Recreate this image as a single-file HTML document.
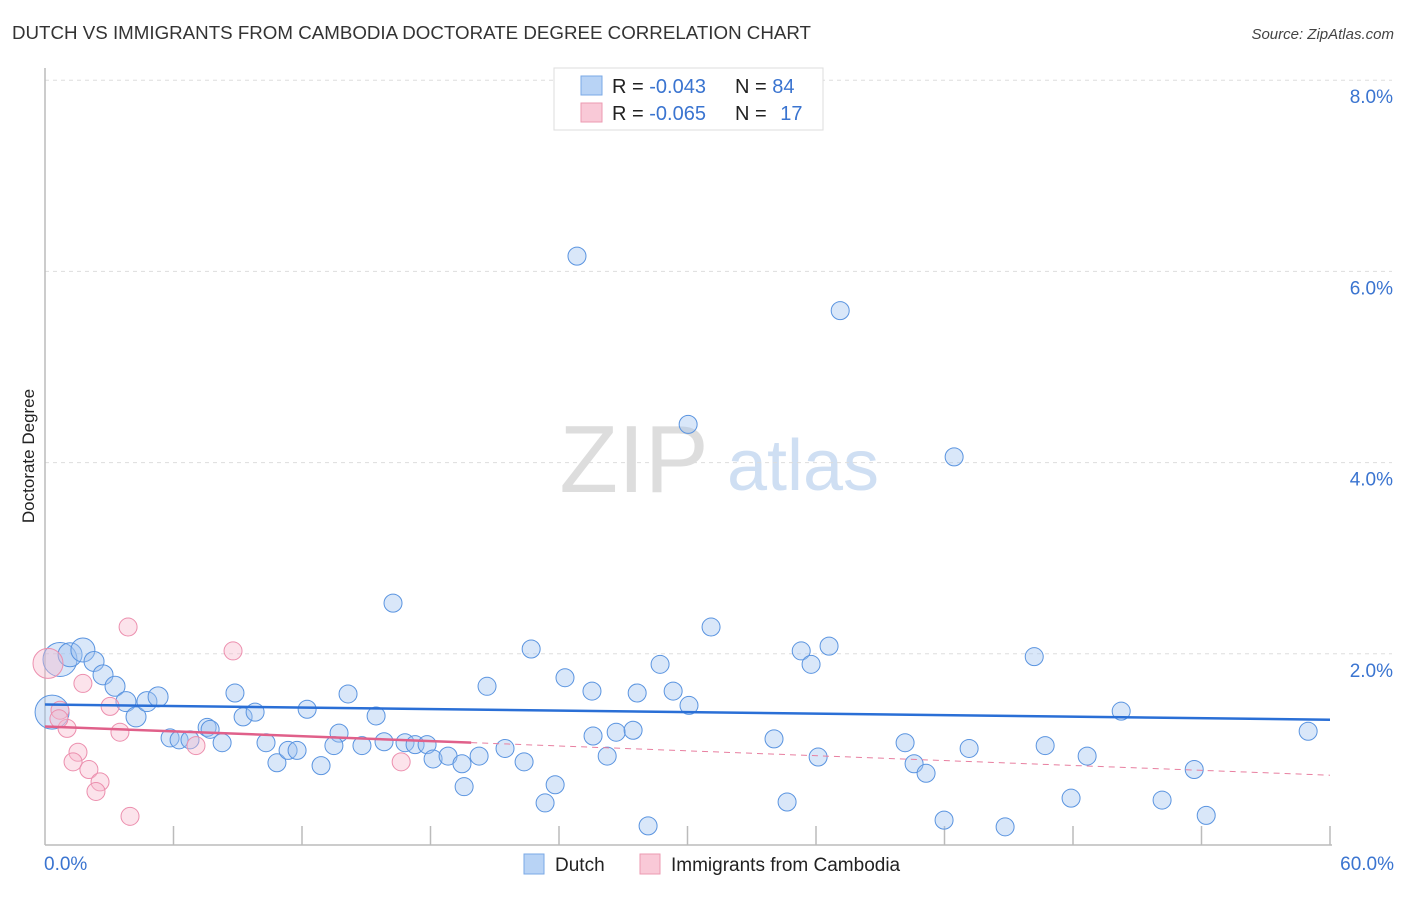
<!DOCTYPE html>
<html><head><meta charset="utf-8">
<style>
body{margin:0;background:#fff;font-family:"Liberation Sans",sans-serif;}
svg text{font-family:"Liberation Sans",sans-serif;}
</style></head>
<body>
<svg id="chart" width="1406" height="892">
  <text x="12" y="39" font-size="18" fill="#333" textLength="799" lengthAdjust="spacingAndGlyphs">DUTCH VS IMMIGRANTS FROM CAMBODIA DOCTORATE DEGREE CORRELATION CHART</text>
  <text x="1394" y="39" font-size="15" fill="#444" text-anchor="end" font-style="italic">Source: ZipAtlas.com</text>
  <text x="34" y="456" font-size="17" fill="#222" text-anchor="middle" transform="rotate(-90 34 456)">Doctorate Degree</text>
  <g>
    <text x="634" y="492" font-size="96" fill="#ddd" font-family="Liberation Serif" text-anchor="middle">ZIP</text>
    <text x="803" y="490" font-size="72" fill="#cfdff3" text-anchor="middle">atlas</text>
  </g>
  <g id="grid"></g>
  <g id="axes"></g>
  <g id="marks"></g>
  <g>
    <rect x="554" y="68" width="269" height="62" fill="#fff" stroke="#ddd"/>
    <rect x="581" y="76" width="21" height="19" fill="#b8d3f5" stroke="#7aa8e6"/>
    <text x="612" y="93" font-size="20" fill="#222">R = <tspan fill="#3a74d0">-0.043</tspan></text>
    <text x="735" y="93" font-size="20" fill="#222">N = <tspan fill="#3a74d0">84</tspan></text>
    <rect x="581" y="103" width="21" height="19" fill="#f9c9d7" stroke="#ec9ab2"/>
    <text x="612" y="120" font-size="20" fill="#222">R = <tspan fill="#3a74d0">-0.065</tspan></text>
    <text x="735" y="120" font-size="20" fill="#222">N = <tspan fill="#3a74d0" dx="8">17</tspan></text>
  </g>
  <g>
    <rect x="524" y="854" width="20" height="20" fill="#b8d3f5" stroke="#7aa8e6"/>
    <text x="555" y="871" font-size="19" fill="#222">Dutch</text>
    <rect x="640" y="854" width="20" height="20" fill="#f9c9d7" stroke="#ec9ab2"/>
    <text x="671" y="871" font-size="19" fill="#222">Immigrants from Cambodia</text>
  </g>
</svg>
<script>
const xTicks=[0,6,12,18,24,30,36,42,48,54,60];
const yTicks=[2,4,6,8];
const yTickLabels=["2.0%","4.0%","6.0%","8.0%"];
const xEndLabels=["0.0%","60.0%"];
const dutchX=[24.84,37.13,30.03,42.45,16.25,31.10,22.70,36.61,35.31,35.77,46.19,28.72,24.28,20.64,25.54,27.65,29.33,30.07,50.25,58.98,0.7,1.17,1.77,2.29,2.71,3.27,3.78,4.25,4.76,5.28,0.33,8.87,7.57,7.71,9.25,9.81,12.24,14.15,15.46,13.73,5.84,6.26,6.77,8.27,10.32,10.83,11.35,11.77,12.89,13.49,14.80,15.83,16.81,17.28,17.84,18.12,18.82,19.47,20.27,21.48,22.37,19.57,23.35,23.82,25.59,26.25,26.67,27.46,28.16,34.04,34.65,36.10,40.16,40.58,41.14,43.15,41.98,44.83,46.70,47.91,48.66,52.16,53.66,54.22];
const dutchY=[6.16,5.59,4.40,4.06,2.53,2.28,2.05,2.08,2.03,1.89,1.97,1.89,1.75,1.66,1.61,1.59,1.61,1.46,1.40,1.19,1.94,1.99,2.04,1.92,1.78,1.66,1.50,1.34,1.50,1.55,1.39,1.59,1.23,1.21,1.34,1.39,1.42,1.58,1.35,1.17,1.12,1.10,1.10,1.07,1.07,0.86,0.99,0.99,0.83,1.04,1.04,1.08,1.07,1.05,1.05,0.90,0.93,0.85,0.93,1.01,0.87,0.61,0.44,0.63,1.14,0.93,1.18,1.20,0.20,1.11,0.45,0.92,1.07,0.85,0.75,1.01,0.26,0.19,1.04,0.49,0.93,0.47,0.79,0.31];
const dutchR=[9,9,9,9,9,9,9,9,9,9,9,9,9,9,9,9,9,9,9,9,17,12,12,10,10,10,10,10,10,10,17];
const cambX=[0.14,0.7,3.88,8.78,1.77,3.04,1.03,3.50,7.05,1.54,1.31,2.05,2.57,2.38,3.97,16.63,0.65];
const cambY=[1.90,1.41,2.28,2.03,1.69,1.45,1.22,1.18,1.04,0.97,0.87,0.79,0.66,0.56,0.30,0.87,1.32];
const cambR=[15,9];
const dutchTrend=[1.47,1.31];
const cambTrend=[1.24,0.73];
const cambSolidEnd=19.9;

const X0=45,X1=1330,Y0=845,YPER=95.6;
const sx=v=>X0+(v/60)*(X1-X0);
const sy=v=>Y0-v*YPER;
const NS="http://www.w3.org/2000/svg";
function mk(tag,parent,attrs){const e=document.createElementNS(NS,tag);for(const k in attrs)e.setAttribute(k,attrs[k]);parent.appendChild(e);return e;}
const grid=document.getElementById('grid'),axes=document.getElementById('axes'),marks=document.getElementById('marks');
yTicks.forEach((t,i)=>{
  const g=mk('line',grid,{x1:X0,x2:1392,y1:sy(t),y2:sy(t),stroke:'#ddd','stroke-dasharray':'4,4'});
  
  
  const l=mk('text',axes,{x:1393,y:sy(t)+23,'font-size':19,fill:'#3a74d0','text-anchor':'end'});
  l.textContent=yTickLabels[i];
  
  
});
const ya=mk('line',axes,{x1:X0,x2:X0,y1:68,y2:Y0,stroke:'#bbb','stroke-width':1.5});


const xa=mk('line',axes,{x1:X0,x2:X1+2,y1:Y0,y2:Y0,stroke:'#bbb','stroke-width':1.5});


xTicks.slice(1).forEach(t=>{
  const tk=mk('line',axes,{x1:sx(t),x2:sx(t),y1:826,y2:Y0,stroke:'#bbb','stroke-width':1.5});
  
  
});
const xl0=mk('text',axes,{x:44,y:870,'font-size':19,fill:'#3a74d0'});xl0.textContent=xEndLabels[0];


const xl1=mk('text',axes,{x:1394,y:870,'font-size':19,fill:'#3a74d0','text-anchor':'end'});xl1.textContent=xEndLabels[1];



dutchX.forEach((x,i)=>{
  const c=mk('circle',marks,{cx:sx(x),cy:sy(dutchY[i]),r:dutchR[i]||9,fill:'rgba(160,195,240,0.4)',stroke:'#5a94e0','stroke-width':1});
  
  
});
cambX.forEach((x,i)=>{
  const c=mk('circle',marks,{cx:sx(x),cy:sy(cambY[i]),r:cambR[i]||9,fill:'rgba(248,185,205,0.4)',stroke:'#ec8fae','stroke-width':1});
  
  
});
const cAt=x=>cambTrend[0]+(cambTrend[1]-cambTrend[0])*x/60;
const pd=mk('line',marks,{x1:sx(cambSolidEnd),y1:sy(cAt(cambSolidEnd)),x2:sx(60),y2:sy(cambTrend[1]),stroke:'#e87fa0','stroke-width':1,'stroke-dasharray':'6,5'});


const ps=mk('line',marks,{x1:sx(0),y1:sy(cambTrend[0]),x2:sx(cambSolidEnd),y2:sy(cAt(cambSolidEnd)),stroke:'#e0608a','stroke-width':2.5});


const bt=mk('line',marks,{x1:sx(0),y1:sy(dutchTrend[0]),x2:sx(60),y2:sy(dutchTrend[1]),stroke:'#2a6fd6','stroke-width':2.5});


</script>
</body></html>
